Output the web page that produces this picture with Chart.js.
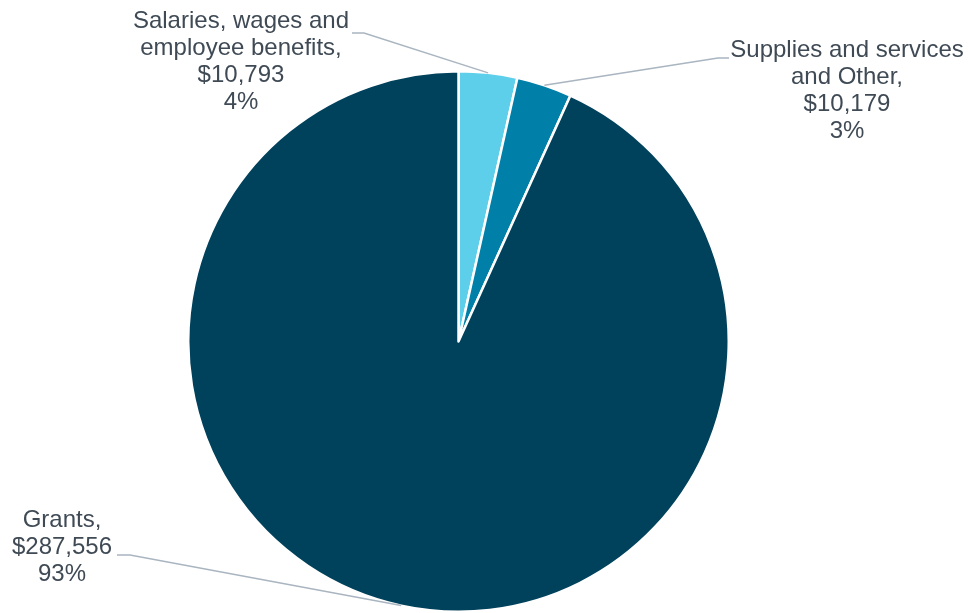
<!DOCTYPE html>
<html>
<head>
<meta charset="utf-8">
<script src="https://cdn.jsdelivr.net/npm/chart.js@4/dist/chart.umd.min.js"></script>
<style>
html,body{margin:0;padding:0;background:#fff;}
#wrap{width:969px;height:613px;position:relative;}
</style>
</head>
<body>
<div id="wrap"><canvas id="c" width="969" height="613"></canvas></div>
<script>
const categories = ["Salaries, wages and employee benefits", "Supplies and services and Other", "Grants"];
const values = [10793, 10179, 287556];
const percentLabels = ["4%", "3%", "93%"];
const labelLines = [
  ["Salaries, wages and", "employee benefits,"],
  ["Supplies and services", "and Other,"],
  ["Grants,"]
];
const colors = ["#5ECFEA", "#0080A8", "#00415C"];

// label layout: text center x, first-line y, elbow point, end of horizontal tail
const labelLayout = [
  {x: 241, y: 21, elbow: [364, 33], tail: [352, 33]},
  {x: 847, y: 50, elbow: [718, 58], tail: [729, 58]},
  {x: 62, y: 520, elbow: [130, 555], tail: [117, 555]}
];

const fmt = v => "$" + v.toLocaleString("en-US");

const labelPlugin = {
  id: "leaderLabels",
  afterDatasetsDraw(chart) {
    const ctx = chart.ctx;
    const meta = chart.getDatasetMeta(0);
    meta.data.forEach((arc, i) => {
      const p = arc.getProps(["x", "y", "startAngle", "endAngle", "outerRadius"], true);
      const mid = (p.startAngle + p.endAngle) / 2;
      const sx = p.x + Math.cos(mid) * p.outerRadius;
      const sy = p.y + Math.sin(mid) * p.outerRadius;
      const L = labelLayout[i];
      ctx.save();
      ctx.strokeStyle = "#A9B5C0";
      ctx.lineWidth = 1.5;
      ctx.beginPath();
      ctx.moveTo(sx, sy);
      ctx.lineTo(L.elbow[0], L.elbow[1]);
      ctx.lineTo(L.tail[0], L.tail[1]);
      ctx.stroke();
      ctx.fillStyle = "#3F4A55";
      ctx.font = "24px 'Liberation Sans', Arial, sans-serif";
      ctx.textAlign = "center";
      ctx.textBaseline = "middle";
      const lines = labelLines[i].concat([fmt(values[i]), percentLabels[i]]);
      lines.forEach((t, k) => ctx.fillText(t, L.x, L.y + k * 27));
      ctx.restore();
    });
  }
};

new Chart(document.getElementById("c"), {
  type: "pie",
  data: {
    labels: categories,
    datasets: [{
      data: values,
      backgroundColor: colors,
      borderColor: "#ffffff",
      borderWidth: 2.5,
      borderJoinStyle: "round"
    }]
  },
  options: {
    responsive: false,
    animation: false,
    layout: {padding: {left: 187, right: 239, top: 70, bottom: 0}},
    plugins: {legend: {display: false}, tooltip: {enabled: false}}
  },
  plugins: [labelPlugin]
});
</script>
</body>
</html>
